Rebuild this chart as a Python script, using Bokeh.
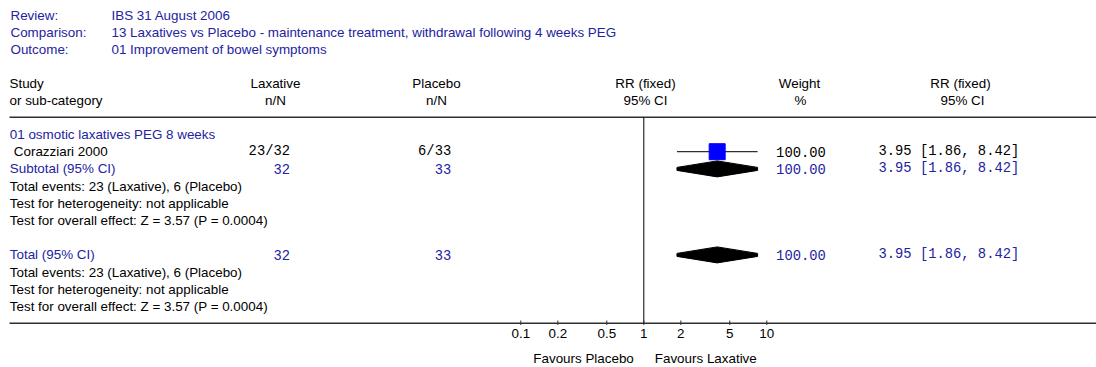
import math
from bokeh.plotting import figure
from bokeh.models import ColumnDataSource, Range1d, LogScale
from bokeh.core.properties import value
from bokeh.embed import file_html
from bokeh.resources import INLINE

# ---------------- data ----------------
review_keys = ["Review:", "Comparison:", "Outcome:"]
review_values = [
    "IBS 31 August 2006",
    "13 Laxatives vs Placebo - maintenance treatment, withdrawal following 4 weeks PEG",
    "01 Improvement of bowel symptoms",
]
group_title = "01 osmotic laxatives PEG 8 weeks"
studies = ["Corazziari 2000"]
lax_events = [23]
lax_total = [32]
plc_events = [6]
plc_total = [33]
study_rr = [3.95]
study_lo = [1.86]
study_hi = [8.42]
study_weight = [100.00]

subtotal_rr, subtotal_lo, subtotal_hi, subtotal_weight = 3.95, 1.86, 8.42, 100.00
total_rr, total_lo, total_hi, total_weight = 3.95, 1.86, 8.42, 100.00
heterogeneity = "not applicable"
z_overall = 3.57
p_overall = "0.0004"

tick_values = [0.1, 0.2, 0.5, 1, 2, 5, 10]
tick_labels = ["0.1", "0.2", "0.5", "1", "2", "5", "10"]
favours_left = "Favours Placebo"
favours_right = "Favours Laxative"

# ---------------- layout ----------------
W, H = 1096, 367
X0, Y0 = 0, 0
ONE_X = 643.3                  # x of RR = 1
DECADE = 123.0                 # pixels per decade
ROW0, PITCH = 134.0, 17.2
BLUE = "#23239F"
SANS = value("Liberation Sans")
MONO = value("Liberation Mono")
FS = "13.4px"
MFS = "13.8px"

def row_y(i):
    return ROW0 + PITCH * i

rr_start = 10 ** ((X0 - ONE_X) / DECADE)
rr_end = 10 ** ((X0 + W - ONE_X) / DECADE)

p = figure(width=W, height=H, x_range=Range1d(X0, X0 + W), y_range=Range1d(Y0 + H, Y0),
           x_axis_type=None, y_axis_type=None, toolbar_location=None,
           output_backend="svg", min_border=0, outline_line_color=None)
p.extra_x_ranges = {"rr": Range1d(rr_start, rr_end)}
p.extra_x_scales = {"rr": LogScale()}
p.background_fill_color = "white"
p.border_fill_color = "white"


def txt(x, y, texts, color="black", align="left", font=SANS, size=FS, **kw):
    src = ColumnDataSource(dict(x=x, y=y, t=texts))
    p.text(x="x", y="y", text="t", source=src, text_font=font, text_font_size=size,
           text_color=color, text_align=align, text_baseline="middle", **kw)

# header block
txt([10] * 3, [15, 32, 49], review_keys, color=BLUE)
txt([111] * 3, [15, 32, 49], review_values, color=BLUE)

# column headers
txt([9, 9], [83.3, 100], ["Study", "or sub-category"])
txt([275, 275], [83.3, 100], ["Laxative", "n/N"], align="center")
txt([436, 436], [83.3, 100], ["Placebo", "n/N"], align="center")
txt([645, 645], [83.3, 100], ["RR (fixed)", "95% CI"], align="center")
txt([799, 800], [83.3, 100], ["Weight", "%"], align="center")
txt([960, 962], [83.3, 100], ["RR (fixed)", "95% CI"], align="center")

# separators
p.segment(x0=[9, 9], y0=[116.7, 322.7], x1=[1100, 1100], y1=[116.7, 322.7],
          line_color="#303030", line_width=1.5)
# line of no effect
p.segment(x0=[1], y0=[116.7], x1=[1], y1=[322.7], x_range_name="rr",
          line_color="black", line_width=1)

# ticks and tick labels on the RR scale
p.segment(x0=tick_values, y0=[320] * len(tick_values), x1=tick_values,
          y1=[324.5] * len(tick_values), x_range_name="rr", line_color="#303030", line_width=1)
txt(tick_values, [333.3] * len(tick_values), tick_labels, align="center", x_range_name="rr")
txt([1], [358], [favours_left], align="right", x_range_name="rr", x_offset=-10)
txt([1], [358], [favours_right], align="left", x_range_name="rr", x_offset=11)

# group 1
txt([9.3], [row_y(0)], [group_title], color=BLUE)
ys = [row_y(1 + i) for i in range(len(studies))]
txt([13.3] * len(studies), ys, studies)
txt([289.5] * len(studies), ys, [f"{e}/{n}" for e, n in zip(lax_events, lax_total)],
    align="right", font=MONO, size=MFS)
txt([450.7] * len(studies), ys, [f"{e}/{n}" for e, n in zip(plc_events, plc_total)],
    align="right", font=MONO, size=MFS)
txt([825.3] * len(studies), ys, [f"{w:.2f}" for w in study_weight], align="right",
    font=MONO, size=MFS)
txt([878] * len(studies), ys, [f"{r:.2f} [{l:.2f}, {h:.2f}]" for r, l, h in
                               zip(study_rr, study_lo, study_hi)], font=MONO, size=MFS)
p.segment(x0=study_lo, y0=ys, x1=study_hi, y1=ys, x_range_name="rr",
          line_color="#303030", line_width=1.2)
p.scatter(x=study_rr, y=ys, marker="square", size=16, x_range_name="rr",
          fill_color="#0000FF", line_color="#0000FF")

n_s = len(studies)
sub_y = row_y(1 + n_s)
txt([9.3], [sub_y], ["Subtotal (95% CI)"], color=BLUE)
txt([289.5], [sub_y], [str(sum(lax_total))], color=BLUE, align="right", font=MONO, size=MFS)
txt([450.7], [sub_y], [str(sum(plc_total))], color=BLUE, align="right", font=MONO, size=MFS)
txt([825.3], [sub_y], [f"{subtotal_weight:.2f}"], color=BLUE, align="right", font=MONO, size=MFS)
txt([878], [sub_y], [f"{subtotal_rr:.2f} [{subtotal_lo:.2f}, {subtotal_hi:.2f}]"],
    color=BLUE, font=MONO, size=MFS)

events_line = f"Total events: {sum(lax_events)} (Laxative), {sum(plc_events)} (Placebo)"
het_line = f"Test for heterogeneity: {heterogeneity}"
eff_line = f"Test for overall effect: Z = {z_overall:.2f} (P = {p_overall})"
txt([9.3] * 3, [row_y(2 + n_s + k) for k in range(3)], [events_line, het_line, eff_line])

tot_y = row_y(6 + n_s)
txt([9.3], [tot_y], ["Total (95% CI)"], color=BLUE)
txt([289.5], [tot_y], [str(sum(lax_total))], color=BLUE, align="right", font=MONO, size=MFS)
txt([450.7], [tot_y], [str(sum(plc_total))], color=BLUE, align="right", font=MONO, size=MFS)
txt([825.3], [tot_y], [f"{total_weight:.2f}"], color=BLUE, align="right", font=MONO, size=MFS)
txt([878], [tot_y], [f"{total_rr:.2f} [{total_lo:.2f}, {total_hi:.2f}]"],
    color=BLUE, font=MONO, size=MFS)
txt([9.3] * 3, [row_y(7 + n_s + k) for k in range(3)], [events_line, het_line, eff_line])

# diamonds
def diamond(lo, est, hi, c):
    return [lo, lo, est, hi, hi, est], [c - 1.5, c + 1.5, c + 8, c + 1.5, c - 1.5, c - 8]

dx1, dy1 = diamond(subtotal_lo, subtotal_rr, subtotal_hi, sub_y)
dx2, dy2 = diamond(total_lo, total_rr, total_hi, tot_y)
p.patches(xs=[dx1, dx2], ys=[dy1, dy2], x_range_name="rr",
          fill_color="black", line_color="black", line_width=1)

open("out.html", "w").write(file_html(p, INLINE))
